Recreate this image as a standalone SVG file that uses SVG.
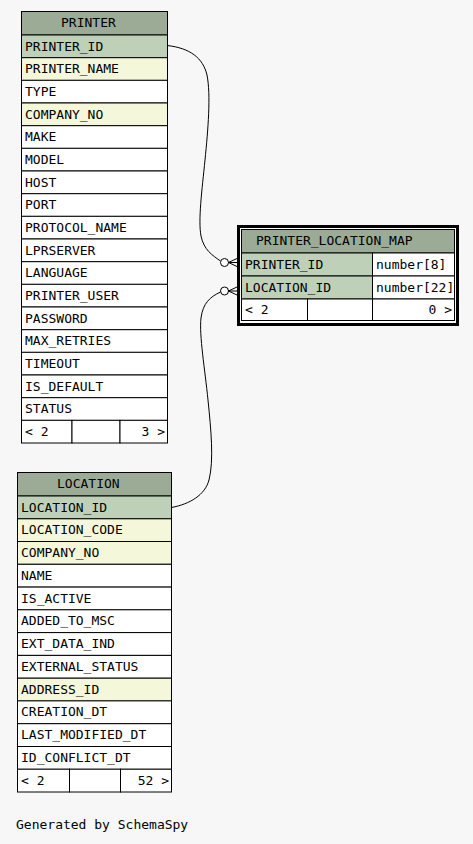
<svg xmlns="http://www.w3.org/2000/svg" width="473" height="844" viewBox="0 0 473 844">
<style>
text{font-family:"DejaVu Sans Mono","Liberation Mono",monospace;font-size:13px;fill:#000}
.c{stroke:#000;stroke-width:1}
.h{fill:#9bab96}
.k{fill:#bed1b8}
.i{fill:#f4f7da}
.w{fill:#ffffff}
.ln{fill:none;stroke:#000;stroke-width:1}
.e{text-anchor:end}
</style>
<rect x="0" y="0" width="473" height="844" fill="#f7f7f7"/>

<g id="connectors">
<path class="ln" d="M167,45.5 C190,48 203,58 207,75 C211,95 208,130 205,160 C202,190 198,220 201,236 C204,250 212,255 220.5,261"/>
<circle cx="224.5" cy="262.5" r="4" fill="#fff" stroke="#000"/>
<path class="ln" stroke-width="1.5" d="M228.5,262.5 L238,258 M228.5,262.5 L238,262.5 M228.5,262.5 L238,267"/>
<path class="ln" d="M171.5,507.5 C190,504 205,495 209,480 C214,460 211,430 208,400 C205,370 199,335 201,318 C203,303 210,297 220.5,292"/>
<circle cx="224.5" cy="291" r="4" fill="#fff" stroke="#000"/>
<path class="ln" stroke-width="1.5" d="M228.5,291 L238,286.5 M228.5,291 L238,291 M228.5,291 L238,295.5"/>
</g>

<g id="PRINTER">
<rect class="c h" x="21.5" y="11.5" width="146" height="23.5"/>
<text x="61" y="27">PRINTER</text>
<rect class="c k" x="21.5" y="35" width="146" height="22.7"/><text x="25" y="50.5">PRINTER_ID</text>
<rect class="c i" x="21.5" y="57.7" width="146" height="22.7"/><text x="25" y="73.2">PRINTER_NAME</text>
<rect class="c w" x="21.5" y="80.3" width="146" height="22.7"/><text x="25" y="95.8">TYPE</text>
<rect class="c i" x="21.5" y="103" width="146" height="22.7"/><text x="25" y="118.5">COMPANY_NO</text>
<rect class="c w" x="21.5" y="125.7" width="146" height="22.7"/><text x="25" y="141.2">MAKE</text>
<rect class="c w" x="21.5" y="148.3" width="146" height="22.7"/><text x="25" y="163.8">MODEL</text>
<rect class="c w" x="21.5" y="171" width="146" height="22.7"/><text x="25" y="186.5">HOST</text>
<rect class="c w" x="21.5" y="193.7" width="146" height="22.7"/><text x="25" y="209.2">PORT</text>
<rect class="c w" x="21.5" y="216.3" width="146" height="22.7"/><text x="25" y="231.8">PROTOCOL_NAME</text>
<rect class="c w" x="21.5" y="239" width="146" height="22.7"/><text x="25" y="254.5">LPRSERVER</text>
<rect class="c w" x="21.5" y="261.7" width="146" height="22.7"/><text x="25" y="277.2">LANGUAGE</text>
<rect class="c w" x="21.5" y="284.3" width="146" height="22.7"/><text x="25" y="299.8">PRINTER_USER</text>
<rect class="c w" x="21.5" y="307" width="146" height="22.7"/><text x="25" y="322.5">PASSWORD</text>
<rect class="c w" x="21.5" y="329.7" width="146" height="22.7"/><text x="25" y="345.2">MAX_RETRIES</text>
<rect class="c w" x="21.5" y="352.3" width="146" height="22.7"/><text x="25" y="367.8">TIMEOUT</text>
<rect class="c w" x="21.5" y="375" width="146" height="22.7"/><text x="25" y="390.5">IS_DEFAULT</text>
<rect class="c w" x="21.5" y="397.7" width="146" height="22.7"/><text x="25" y="413.2">STATUS</text>
<rect class="c w" x="21.5" y="420.3" width="50.5" height="22.7"/>
<rect class="c w" x="72" y="420.3" width="48" height="22.7"/>
<rect class="c w" x="120" y="420.3" width="47.5" height="22.7"/>
<text x="25" y="435.8">&lt; 2</text>
<text class="e" x="165" y="435.8">3 &gt;</text>
</g>

<g id="LOCATION">
<rect class="c h" x="17.5" y="472.5" width="154" height="23.5"/>
<text x="57" y="488">LOCATION</text>
<rect class="c k" x="17.5" y="496" width="154" height="22.8"/><text x="21" y="511.5">LOCATION_ID</text>
<rect class="c i" x="17.5" y="518.8" width="154" height="22.8"/><text x="21" y="534.3">LOCATION_CODE</text>
<rect class="c i" x="17.5" y="541.5" width="154" height="22.8"/><text x="21" y="557">COMPANY_NO</text>
<rect class="c w" x="17.5" y="564.3" width="154" height="22.8"/><text x="21" y="579.8">NAME</text>
<rect class="c w" x="17.5" y="587.1" width="154" height="22.8"/><text x="21" y="602.6">IS_ACTIVE</text>
<rect class="c w" x="17.5" y="609.8" width="154" height="22.8"/><text x="21" y="625.3">ADDED_TO_MSC</text>
<rect class="c w" x="17.5" y="632.6" width="154" height="22.8"/><text x="21" y="648.1">EXT_DATA_IND</text>
<rect class="c w" x="17.5" y="655.4" width="154" height="22.8"/><text x="21" y="670.9">EXTERNAL_STATUS</text>
<rect class="c i" x="17.5" y="678.2" width="154" height="22.8"/><text x="21" y="693.7">ADDRESS_ID</text>
<rect class="c w" x="17.5" y="700.9" width="154" height="22.8"/><text x="21" y="716.4">CREATION_DT</text>
<rect class="c w" x="17.5" y="723.7" width="154" height="22.8"/><text x="21" y="739.2">LAST_MODIFIED_DT</text>
<rect class="c w" x="17.5" y="746.5" width="154" height="22.8"/><text x="21" y="762">ID_CONFLICT_DT</text>
<rect class="c w" x="17.5" y="769.2" width="52" height="22.8"/>
<rect class="c w" x="69.5" y="769.2" width="51" height="22.8"/>
<rect class="c w" x="120.5" y="769.2" width="51" height="22.8"/>
<text x="21" y="784.7">&lt; 2</text>
<text class="e" x="169" y="784.7">52 &gt;</text>
</g>

<g id="PRINTER_LOCATION_MAP">
<rect x="238.5" y="226.5" width="219" height="98" fill="#fff" stroke="#000" stroke-width="3"/>
<rect class="c h" x="241.5" y="229.5" width="213" height="23.5"/>
<text x="256" y="245">PRINTER_LOCATION_MAP</text>
<rect class="c k" x="241.5" y="253" width="131" height="23"/><text x="245" y="268.5">PRINTER_ID</text>
<rect class="c w" x="372.5" y="253" width="82" height="23"/><text x="376" y="268.5">number[8]</text>
<rect class="c k" x="241.5" y="276" width="131" height="23"/><text x="245" y="291.5">LOCATION_ID</text>
<rect class="c w" x="372.5" y="276" width="82" height="23"/><text x="376" y="291.5">number[22]</text>
<rect class="c w" x="241.5" y="299" width="66" height="21.5"/>
<rect class="c w" x="307.5" y="299" width="65" height="21.5"/>
<rect class="c w" x="372.5" y="299" width="82" height="21.5"/>
<text x="245" y="314">&lt; 2</text>
<text class="e" x="452" y="314">0 &gt;</text>
</g>

<text x="16" y="829">Generated by SchemaSpy</text>
</svg>
